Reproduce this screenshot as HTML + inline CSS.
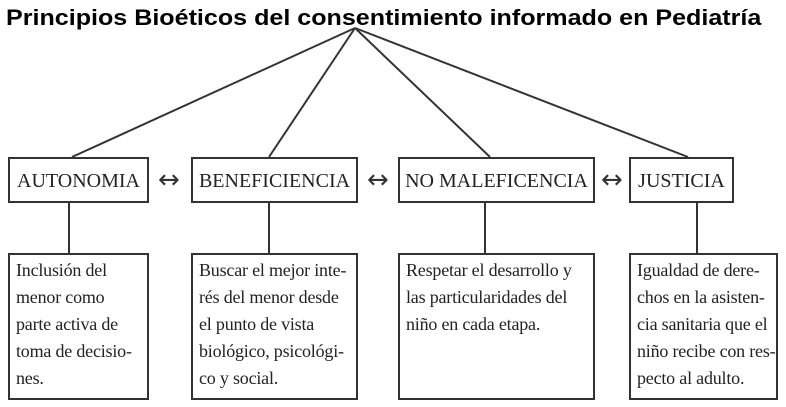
<!DOCTYPE html>
<html><head><meta charset="utf-8"><style>
body{margin:0;background:#fff;width:786px;height:407px;overflow:hidden;position:relative;font-family:"Liberation Serif",serif;color:#222}
.t{position:absolute;left:6px;top:5px;font:bold 22px "Liberation Sans",sans-serif;color:#000;white-space:nowrap;transform:scaleX(1.14);transform-origin:left top}
.b{position:absolute;border:2px solid #333;box-sizing:border-box}
.h{top:157px;height:46px;font-size:20px;line-height:44px;text-align:center;white-space:nowrap}
.d{top:253px;height:147px;font-size:18px;line-height:27px;padding:2px 0 0 6px;white-space:nowrap;letter-spacing:-0.2px}
.a{position:absolute;top:157px;font-size:26px;line-height:46px;font-family:"DejaVu Sans",sans-serif;color:#333}
</style></head><body>
<div class="t">Principios Bioéticos del consentimiento informado en Pediatría</div>
<svg width="786" height="407" style="position:absolute;left:0;top:0" stroke="#333" stroke-width="2">
<line x1="355" y1="28" x2="72" y2="157"/><line x1="355" y1="28" x2="269" y2="157"/>
<line x1="355" y1="28" x2="490" y2="157"/><line x1="355" y1="28" x2="688" y2="157"/>
<line x1="69" y1="202" x2="69" y2="253"/><line x1="269" y1="202" x2="269" y2="253"/>
<line x1="485" y1="202" x2="485" y2="253"/><line x1="697" y1="202" x2="697" y2="253"/>
</svg>
<div class="b h" style="left:8px;width:141px">AUTONOMIA</div>
<div class="b h" style="left:191px;width:167px">BENEFICIENCIA</div>
<div class="b h" style="left:398px;width:197px">NO MALEFICENCIA</div>
<div class="b h" style="left:629px;width:105px">JUSTICIA</div>
<div class="a" style="left:158px">↔</div>
<div class="a" style="left:367px">↔</div>
<div class="a" style="left:601px">↔</div>
<div class="b d" style="left:8px;width:141px">Inclusión del<br>menor como<br>parte activa de<br>toma de decisio-<br>nes.</div>
<div class="b d" style="left:191px;width:167px">Buscar el mejor inte-<br>rés del menor desde<br>el punto de vista<br>biológico, psicológi-<br>co y social.</div>
<div class="b d" style="left:398px;width:197px">Respetar el desarrollo y<br>las particularidades del<br>niño en cada etapa.</div>
<div class="b d" style="left:629px;width:149px">Igualdad de dere-<br>chos en la asisten-<br>cia sanitaria que el<br>niño recibe con res-<br>pecto al adulto.</div>
</body></html>
